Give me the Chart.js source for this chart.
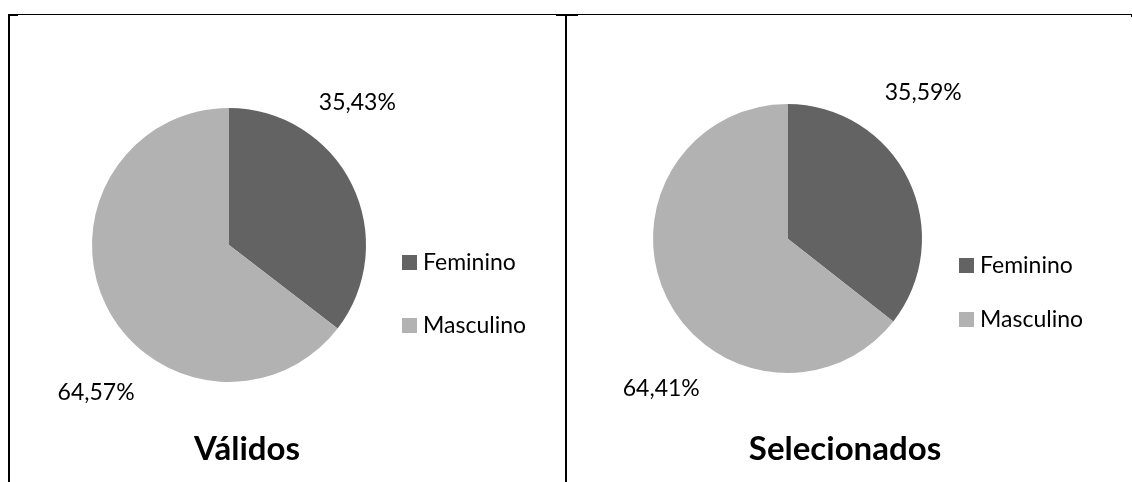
<!DOCTYPE html>
<html lang="pt">
<head>
    <meta charset="UTF-8">
    <title>Válidos e Selecionados</title>
    <script src="https://cdn.jsdelivr.net/npm/chart.js@4.4.1/dist/chart.umd.min.js"></script>
    <style>
        body { margin: 0; background: #fff; width: 1132px; height: 482px; position: relative; overflow: hidden; }
        .rule { position: absolute; background: #000; }
        canvas { position: absolute; }
    </style>
</head>
<body>
    <!-- table frame -->
    <div class="rule" style="left:8px; top:14px; width:1124px; height:1px;"></div>
    <div class="rule" style="left:8px; top:14px; width:10px; height:2px;"></div>
    <div class="rule" style="left:8px; top:14px; width:2px; height:468px;"></div>
    <div class="rule" style="left:556px; top:14px; width:22px; height:2px;"></div>
    <div class="rule" style="left:565px; top:14px; width:2px; height:468px;"></div>
    <div class="rule" style="left:1131px; top:14px; width:1px; height:3px;"></div>

    <canvas id="chartValidos" width="554" height="466" style="left:10px; top:16px;"></canvas>
    <canvas id="chartSelecionados" width="564" height="466" style="left:567px; top:16px;"></canvas>

    <script type="text/javascript" charset="utf-8">
        var categories = ['Feminino', 'Masculino'];
        var validosValues = [35.43, 64.57];
        var selecionadosValues = [35.59, 64.41];
        var sliceColors = ['#636363', '#b2b2b2'];

        function pct(v) {
            return v.toFixed(2).replace('.', ',') + '%';
        }

        // percentage labels, legend and title drawn on top of the pie
        var decorations = {
            id: 'decorations',
            afterDraw: function(chart, args, opts) {
                var ctx = chart.ctx;
                var arc = chart.getDatasetMeta(0).data[0];
                var cx = arc.x, cy = arc.y, r = arc.outerRadius;
                var ds = chart.data.datasets[0];
                ctx.save();
                ctx.fillStyle = '#000';
                ctx.font = '23px Lato';
                ctx.textAlign = 'center';
                ctx.textBaseline = 'middle';
                ds.data.forEach(function(v, i) {
                    var a = opts.labelAngles[i] * Math.PI / 180;
                    var d = r * opts.labelDist[i];
                    ctx.fillText(pct(v), cx + d * Math.sin(a), cy - d * Math.cos(a));
                });

                ctx.textAlign = 'left';
                ctx.textBaseline = 'alphabetic';
                chart.data.labels.forEach(function(lab, i) {
                    var y = opts.legendY + i * opts.legendGap;
                    ctx.fillStyle = ds.backgroundColor[i];
                    ctx.fillRect(opts.legendX, y, 15, 15);
                    ctx.fillStyle = '#000';
                    ctx.fillText(lab, opts.legendX + 21, y + 15);
                });

                ctx.font = 'bold 33px Lato';
                ctx.textAlign = 'center';
                ctx.fillText(opts.title, opts.titleX, opts.titleY);
                ctx.restore();
            }
        };

        function makePie(id, values, padding, deco) {
            return new Chart(document.getElementById(id), {
                type: 'pie',
                data: {
                    labels: categories,
                    datasets: [{
                        data: values,
                        backgroundColor: sliceColors,
                        borderWidth: 0,
                        hoverOffset: 0
                    }]
                },
                options: {
                    responsive: false,
                    animation: false,
                    layout: { padding: padding },
                    plugins: {
                        legend: { display: false },
                        tooltip: { enabled: false },
                        decorations: deco
                    }
                },
                plugins: [decorations]
            });
        }

        makePie('chartValidos', validosValues,
            { left: 82, top: 92, right: 198, bottom: 100 },
            { labelAngles: [42, 222], labelDist: [1.40, 1.45],
              legendX: 392, legendY: 239, legendGap: 63,
              title: 'Válidos', titleX: 237, titleY: 444 });

        makePie('chartSelecionados', selecionadosValues,
            { left: 86, top: 88, right: 209, bottom: 109 },
            { labelAngles: [43, 220], labelDist: [1.48, 1.46],
              legendX: 392, legendY: 242, legendGap: 54,
              title: 'Selecionados', titleX: 278, titleY: 444 });
    </script>
</body>
</html>
